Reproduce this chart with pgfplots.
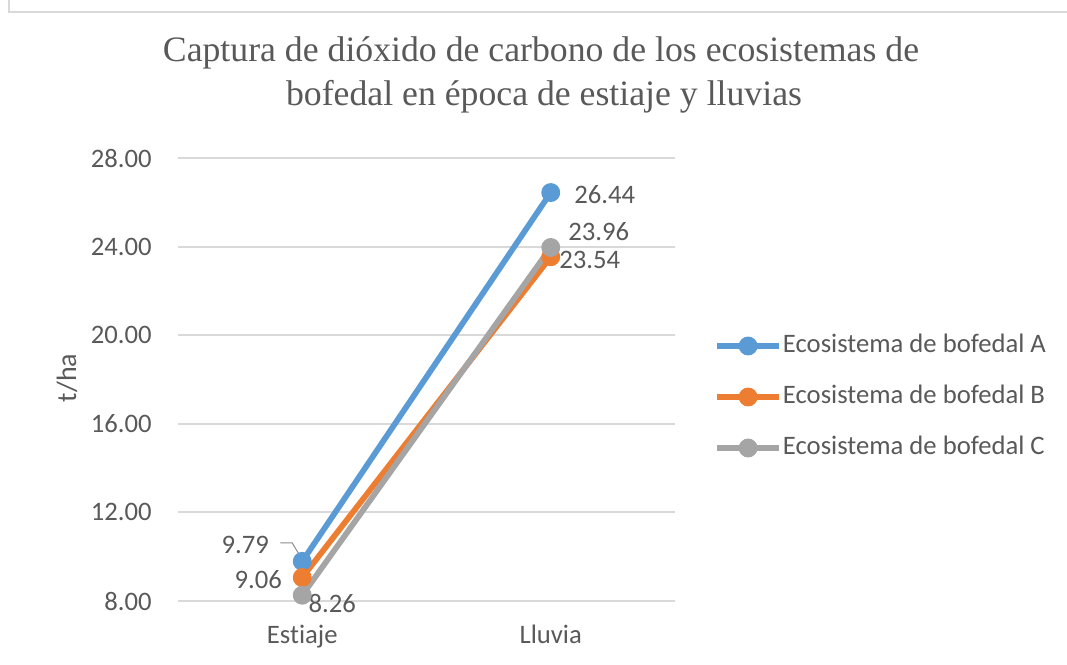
\documentclass[border=0pt]{standalone}
\usepackage{fontspec}
\setmainfont{Carlito}[RawFeature=-liga]
\newfontfamily\titlefont{Liberation Serif}
\usepackage{pgfplots}
\pgfplotsset{compat=1.18}
\definecolor{sA}{HTML}{5B9BD5}
\definecolor{sB}{HTML}{ED7D31}
\definecolor{sC}{HTML}{A5A5A5}
\definecolor{txt}{HTML}{595959}
\definecolor{grd}{HTML}{D9D9D9}
\begin{document}
\begin{tikzpicture}[x=0.75pt,y=0.75pt]
\path[use as bounding box] (0,0) rectangle (1067,664);
\draw[grd, line width=1.5pt] (9,664) -- (9,652) -- (1067,652);
\node[anchor=base, text=txt, font=\titlefont\fontsize{26.8}{32}\selectfont, inner sep=0pt] at (541,602) {Captura de dióxido de carbono de los ecosistemas de};
\node[anchor=base, text=txt, font=\titlefont\fontsize{26.8}{32}\selectfont, inner sep=0pt] at (544,558) {bofedal en época de estiaje y lluvias};
\node[rotate=90, text=txt, font=\fontsize{21}{25}\selectfont, inner sep=0pt] at (67,286) {t/ha};
\begin{axis}[
  at={(133.5pt,47.25pt)}, anchor=south west,
  scale only axis, width=372.75pt, height=332.25pt,
  xmin=-0.5, xmax=1.5, ymin=8, ymax=28,
  xtick={0,1}, xticklabels={Estiaje,Lluvia},
  ytick={8,12,16,20,24,28},
  axis line style={draw=none},
  tick style={draw=none}, major tick length=0pt,
  ymajorgrids, grid style={grd, line width=1.5pt},
  ticklabel style={text=txt, font=\fontsize{20}{24}\selectfont, inner sep=0pt},
  yticklabel style={anchor=east, xshift=-19.5pt},
  xticklabel style={anchor=base, yshift=-31.5pt},
  /pgf/number format/fixed, /pgf/number format/fixed zerofill,
  /pgf/number format/precision=2, /pgf/number format/assume math mode=true,
  legend style={at={(axis description cs:1.0704,0.4605)}, anchor=west, draw=none, fill=none,
    font=\fontsize{20}{24}\selectfont, text=txt, row sep=20.25pt, column sep=0.75pt,
    nodes={inner sep=0pt, text height=14pt, text depth=4pt}},
  legend cell align=left,
  legend image code/.code={\draw[#1, mark repeat=2, mark phase=2] plot coordinates {(0pt,0pt) (23.25pt,0pt) (46.5pt,0pt)};},
  every axis plot/.append style={line width=4.3pt, mark=*, mark size=4.9pt},
  clip=false,
]
\addplot[sA, mark options={draw=none, fill=sA}] coordinates {(0,9.79) (1,26.44)};
\addlegendentry{Ecosistema de bofedal A}
\addplot[sB, mark options={draw=none, fill=sB}] coordinates {(0,9.06) (1,23.54)};
\addlegendentry{Ecosistema de bofedal B}
\addplot[sC, mark options={draw=none, fill=sC}] coordinates {(0,8.26) (1,23.96)};
\addlegendentry{Ecosistema de bofedal C}
\begin{scope}[every node/.style={text=txt, font=\fontsize{20}{24}\selectfont, inner sep=0pt}]
\node[xshift=40.5pt, yshift=-1.5pt] at (axis cs:1,26.44) {26.44};
\node[xshift=36pt, yshift=11.6pt] at (axis cs:1,23.96) {23.96};
\node[xshift=29.25pt, yshift=-2.25pt] at (axis cs:1,23.54) {23.54};
\node[xshift=-42.75pt, yshift=12pt] at (axis cs:0,9.79) {9.79};
\node[xshift=-33pt, yshift=-1.9pt] at (axis cs:0,9.06) {9.06};
\node[xshift=22.5pt, yshift=-6pt] at (axis cs:0,8.26) {8.26};
\end{scope}
\draw[color=gray!90, line width=0.75pt] ([xshift=-16.5pt, yshift=13.8pt]axis cs:0,9.79) -- ([xshift=-7.5pt, yshift=13.8pt]axis cs:0,9.79) -- ([xshift=-1.5pt, yshift=3.75pt]axis cs:0,9.79);
\end{axis}
\end{tikzpicture}
\end{document}
